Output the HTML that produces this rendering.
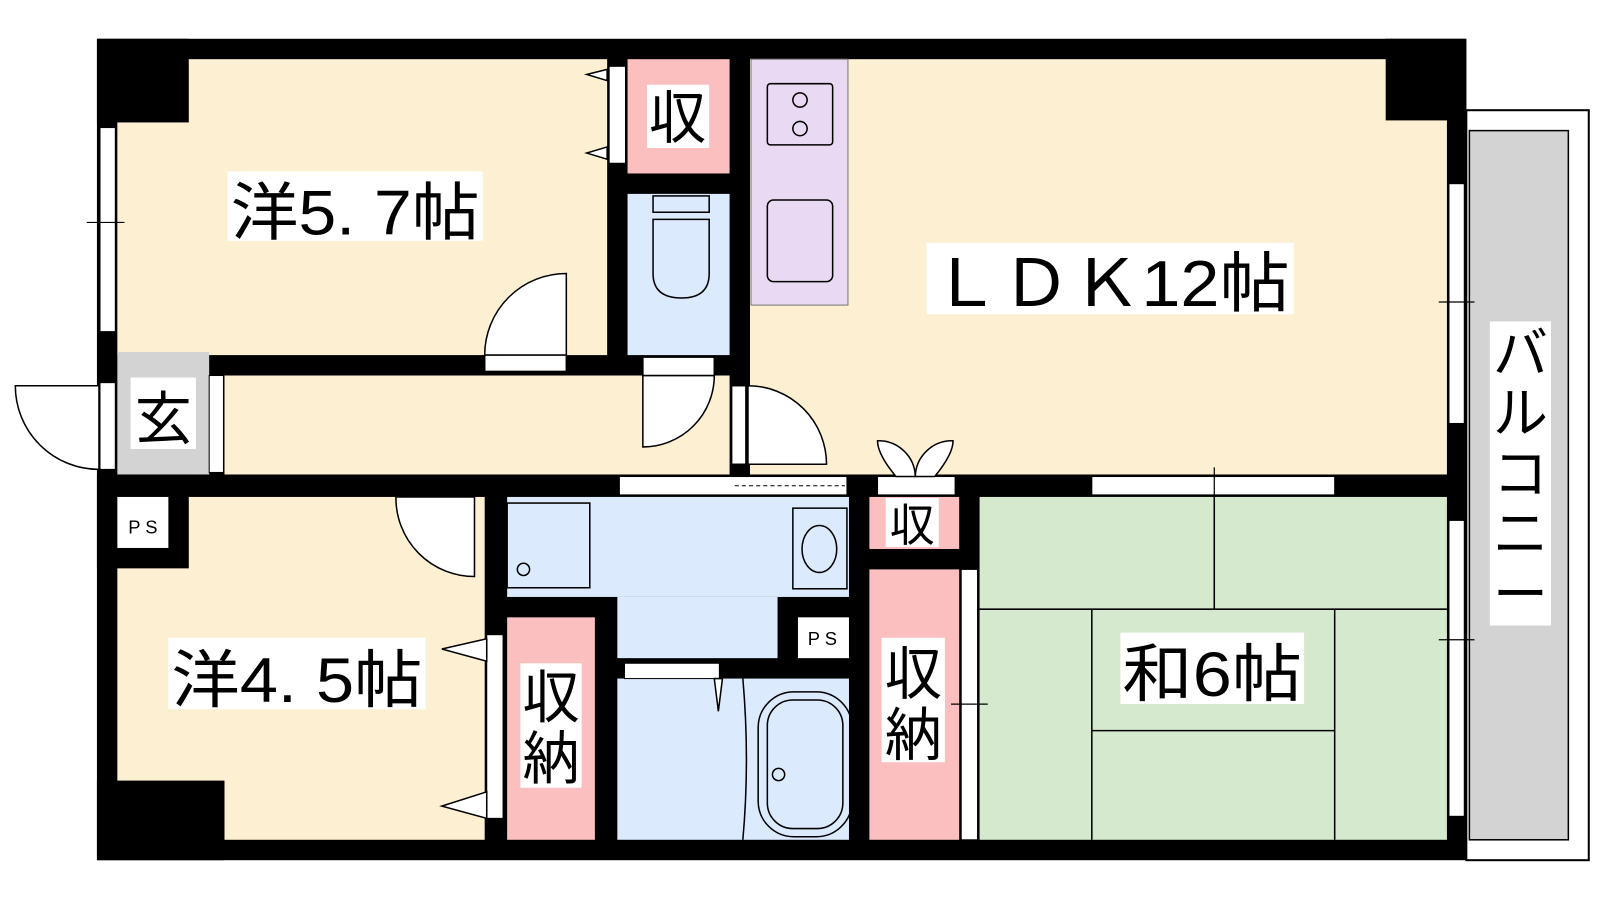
<!DOCTYPE html>
<html><head><meta charset="utf-8"><style>
html,body{margin:0;padding:0;background:#fff;}
svg{display:block}
text{font-family:"Liberation Sans","Noto Sans CJK JP",sans-serif;fill:#000}
</style></head><body>
<svg width="1600" height="900" viewBox="0 0 1600 900" xmlns="http://www.w3.org/2000/svg">
<g transform="scale(1.0204)">
<rect x="1437" y="108" width="120" height="735" fill="#fff" stroke="#000" stroke-width="2"/>
<rect x="1440" y="128" width="97" height="695" fill="#d3d3d3" stroke="#000" stroke-width="1.5"/>
<rect x="95" y="38" width="1342" height="805" fill="#000"/>
<rect x="115" y="58" width="480" height="290" fill="#fdf0d2"/>
<rect x="95" y="38" width="90" height="82" fill="#000"/>
<rect x="615" y="58" width="100" height="112" fill="#fcbfbf"/>
<rect x="615" y="190" width="100" height="158" fill="#dbeafd"/>
<rect x="220" y="368" width="495" height="97" fill="#fdf0d2"/>
<rect x="115" y="345" width="90" height="120" fill="#d3d3d3"/>
<rect x="735" y="58" width="683" height="407" fill="#fdf0d2"/>
<rect x="1358" y="38" width="79" height="80" fill="#000"/>
<rect x="736" y="58" width="95" height="241" fill="#e9d9f3" stroke="#777" stroke-width="1"/>
<rect x="752" y="82" width="64" height="60" fill="none" stroke="#000" stroke-width="1.5" rx="3"/>
<circle cx="784" cy="98" r="7" fill="none" stroke="#000" stroke-width="1.5"/><circle cx="784" cy="126" r="7" fill="none" stroke="#000" stroke-width="1.5"/>
<rect x="752" y="196" width="64" height="80" fill="none" stroke="#000" stroke-width="1.5" rx="6"/>
<rect x="640" y="192" width="55" height="16" fill="#dbeafd" stroke="#000" stroke-width="1.5"/>
<path d="M640 215 H695 V268 Q695 292 668 292 Q640 292 640 268 Z" fill="#dbeafd" stroke="#000" stroke-width="1.5"/>
<rect x="115" y="487" width="360" height="336" fill="#fdf0d2"/>
<rect x="95" y="765" width="125" height="78" fill="#000"/>
<rect x="95" y="465" width="90" height="92" fill="#000"/>
<rect x="115" y="487" width="50" height="50" fill="#fff"/>
<text x="140" y="523" font-size="18" text-anchor="middle">P S</text>
<rect x="497" y="487" width="335" height="98" fill="#dbeafd"/>
<rect x="605" y="585" width="157" height="60" fill="#dbeafd"/>
<rect x="497" y="493" width="81" height="83" fill="none" stroke="#000" stroke-width="1.5"/>
<circle cx="513" cy="558" r="6" fill="none" stroke="#000" stroke-width="1.5"/>
<rect x="777" y="498" width="53" height="79" fill="none" stroke="#000" stroke-width="1.5"/>
<ellipse cx="803" cy="538" rx="17" ry="23" fill="none" stroke="#000" stroke-width="1.5"/>
<rect x="782" y="605" width="50" height="40" fill="#fff"/>
<text x="806" y="632" font-size="18" text-anchor="middle">P S</text>
<rect x="605" y="665" width="227" height="158" fill="#dbeafd"/>
<rect x="612" y="650" width="93" height="15" fill="#fff" stroke="#000" stroke-width="1"/>
<path d="M700 665 L708 665 L704 697 Z" fill="#fff" stroke="#000" stroke-width="1.5"/>
<path d="M728 665 Q735 745 728 823" fill="none" stroke="#000" stroke-width="1.5"/>
<rect x="743" y="678" width="92" height="142" rx="35" fill="none" stroke="#000" stroke-width="1.5"/>
<rect x="752" y="686" width="74" height="126" rx="25" fill="none" stroke="#000" stroke-width="1.5"/>
<circle cx="763" cy="759" r="6" fill="none" stroke="#000" stroke-width="1.5"/>
<rect x="497" y="605" width="86" height="218" fill="#fcbfbf"/>
<rect x="852" y="487" width="88" height="51" fill="#fcbfbf"/>
<rect x="852" y="558" width="88" height="265" fill="#fcbfbf"/>
<rect x="960" y="487" width="458" height="336" fill="#d5e9cf"/>
<g stroke="#000" stroke-width="1.5" fill="none">
<line x1="1190" y1="487" x2="1190" y2="597"/>
<line x1="960" y1="597" x2="1418" y2="597"/>
<line x1="1070" y1="597" x2="1070" y2="823"/>
<line x1="1308" y1="597" x2="1308" y2="823"/>
<line x1="1070" y1="716" x2="1308" y2="716"/>
</g>
<g fill="#fff" stroke="#000" stroke-width="1">
<rect x="98" y="125" width="15" height="200"/>
<rect x="1420" y="180" width="15" height="235"/>
<rect x="1420" y="510" width="15" height="290"/>
<rect x="1070" y="467" width="238" height="18"/>
<rect x="607" y="467" width="223" height="18"/>
<rect x="942" y="558" width="16" height="265"/>
<rect x="477" y="622" width="16" height="180"/>
<rect x="597" y="65" width="16" height="95"/>
<rect x="98" y="375" width="15" height="85"/>
<rect x="205" y="368" width="14" height="95"/>
<rect x="860" y="467" width="76" height="18"/>
</g>
<line x1="720" y1="476" x2="828" y2="476" stroke="#000" stroke-dasharray="4 3"/>
<g fill="#fff" stroke="#000" stroke-width="1.5">
<path d="M555 348 V268 A80 80 0 0 0 475 348 Z"/>
<rect x="475" y="348" width="80" height="16"/>
<path d="M630 368 V438 A70 70 0 0 0 700 368 Z"/>
<rect x="630" y="350" width="70" height="18"/>
<path d="M733 455 V378 A77 77 0 0 1 810 455 Z"/>
<rect x="717" y="378" width="14" height="77"/>
<path d="M97 378 H15 A82 82 0 0 0 97 460 Z"/>
<path d="M465 487 V565 A77 77 0 0 1 388 487 Z"/>
<path d="M878 467 Q860 445 860 432 A36 36 0 0 1 897 467 Z"/>
<path d="M897 467 A36 36 0 0 1 934 432 Q934 445 916 467 Z"/>
<path d="M595 68 L575 73 L595 79 Z"/><path d="M595 144 L575 150 L595 156 Z"/>
<path d="M477 626 L433 636 L477 648 Z"/><path d="M477 776 L433 790 L477 802 Z"/>
</g>
<g stroke="#000" stroke-width="1.2">
<line x1="85" y1="218" x2="122" y2="218"/><line x1="1410" y1="296" x2="1445" y2="296"/>
<line x1="1410" y1="627" x2="1445" y2="627"/><line x1="932" y1="690" x2="968" y2="690"/>
<line x1="1190" y1="458" x2="1190" y2="493"/>
</g>
<rect x="223" y="168" width="250" height="68" fill="#fff"/>
<text x="226" y="230" font-size="62" textLength="244" lengthAdjust="spacingAndGlyphs">洋5. 7帖</text>
<rect x="908" y="238" width="360" height="70" fill="#fff"/>
<text x="912" y="300" font-size="64" textLength="352" lengthAdjust="spacingAndGlyphs">ＬＤＫ12帖</text>
<rect x="1460" y="315" width="60" height="298" fill="#fff"/>
<text font-size="54" text-anchor="middle"><tspan x="1490" y="365">バ</tspan><tspan x="1490" y="424">ル</tspan><tspan x="1490" y="483">コ</tspan><tspan x="1490" y="542">ニ</tspan><tspan x="1490" y="601">ー</tspan></text>
<rect x="1098" y="620" width="180" height="70" fill="#fff"/>
<text x="1100" y="682" font-size="62" textLength="176" lengthAdjust="spacingAndGlyphs">和6帖</text>
<rect x="165" y="625" width="252" height="70" fill="#fff"/>
<text x="168" y="688" font-size="62" textLength="246" lengthAdjust="spacingAndGlyphs">洋4. 5帖</text>
<rect x="128" y="370" width="64" height="70" fill="#fff"/>
<text x="160" y="430" font-size="56" text-anchor="middle">玄</text>
<rect x="634" y="83" width="61" height="62" fill="#fff"/>
<text x="664" y="135" font-size="56" text-anchor="middle">収</text>
<rect x="510" y="650" width="60" height="122" fill="#fff"/>
<text font-size="56" text-anchor="middle"><tspan x="540" y="703">収</tspan><tspan x="540" y="763">納</tspan></text>
<rect x="864" y="625" width="62" height="122" fill="#fff"/>
<text font-size="56" text-anchor="middle"><tspan x="895" y="680">収</tspan><tspan x="895" y="740">納</tspan></text>
<rect x="868" y="488" width="52" height="48" fill="#fff"/>
<text x="894" y="530" font-size="44" text-anchor="middle">収</text>
</g>
</svg>
</body></html>
